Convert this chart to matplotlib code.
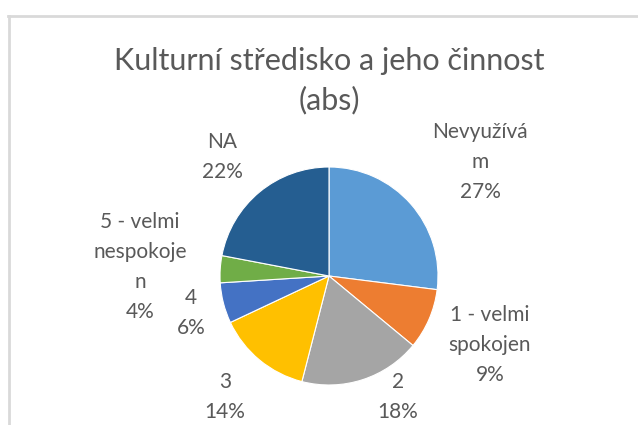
import matplotlib.pyplot as plt
from matplotlib.lines import Line2D

plt.rcParams['font.family'] = ['Lato', 'DejaVu Sans']

# --- data ---
categories = ["Nevyužívá\nm", "1 - velmi\nspokojen", "2", "3", "4",
              "5 - velmi\nnespokoje\nn", "NA"]
shares = [27, 9, 18, 14, 6, 4, 22]
colors = ["#5B9BD5", "#ED7D31", "#A5A5A5", "#FFC000", "#4472C4",
          "#70AD47", "#255E91"]
title = "Kulturní středisko a jeho činnost\n(abs)"

# label centres in pixel coords (x, y from top)
label_pos = [(480, 162), (490, 345), (398, 397), (225, 397), (191, 313),
             (140, 267), (222, 157)]
line_step = 30  # px between label lines

W, H = 638, 425
fig = plt.figure(figsize=(W / 100, H / 100), dpi=100)
ax = fig.add_axes([0, 0, 1, 1])

# chart frame (only top and left edges visible in the crop)
fig.add_artist(Line2D([9 / W, 9 / W], [0, 1 - 16 / H], transform=fig.transFigure,
                      color="#d9d9d9", lw=2))
fig.add_artist(Line2D([8 / W, 1], [1 - 16 / H, 1 - 16 / H], transform=fig.transFigure,
                      color="#d9d9d9", lw=2))

ax.pie(shares, colors=colors, startangle=90, counterclock=False,
       center=(329, H - 276), radius=109, frame=True,
       wedgeprops=dict(edgecolor="white", linewidth=0.8))
ax.set_xlim(0, W)
ax.set_ylim(0, H)
ax.set_aspect("equal")
ax.axis("off")

# each label line drawn on its own so neighbouring labels don't collide
for cat, val, (x, y) in zip(categories, shares, label_pos):
    lines = cat.split("\n") + [f"{val}%"]
    y0 = y - line_step * (len(lines) - 1) / 2
    for i, ln in enumerate(lines):
        ax.text(x, H - (y0 + i * line_step), ln, ha="center", va="center",
                fontsize=15, color="#595959")

ax.text(329.5, H - 81, title, ha="center", va="center",
        fontsize=22, color="#595959", linespacing=1.45)

plt.savefig("out.png", dpi=100)
